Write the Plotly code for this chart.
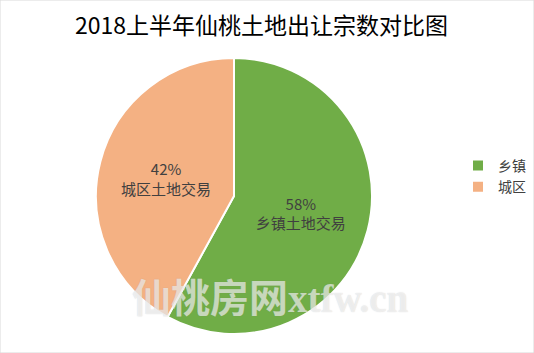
import plotly.graph_objects as go

categories = ["乡镇", "城区"]
values = [58, 42]
label_texts = ["乡镇土地交易", "城区土地交易"]
colors = ["#70AD47", "#F4B183"]
title_text = "2018上半年仙桃土地出让宗数对比图"

W, H = 534, 353
fig = go.Figure(go.Pie(
    labels=categories,
    values=values,
    text=label_texts,
    texttemplate="%{percent:.0%}<br>%{text}",
    textposition="inside",
    insidetextorientation="horizontal",
    textfont=dict(family="Noto Sans CJK SC", size=15, color="#404040"),
    marker=dict(colors=colors, line=dict(color="white", width=2)),
    sort=False,
    direction="clockwise",
    rotation=0,
    hoverinfo="skip",
    domain=dict(x=[96 / W, 372 / W], y=[1 - 334 / H, 1 - 58 / H]),
))

fig.update_layout(
    width=W, height=H,
    margin=dict(l=0, r=0, t=0, b=0, autoexpand=False),
    paper_bgcolor="white",
    plot_bgcolor="white",
    font=dict(family="Noto Sans CJK SC", color="#404040"),
    showlegend=True,
    legend=dict(
        x=458 / W, y=0.5, xanchor="left", yanchor="middle",
        font=dict(family="Noto Sans CJK SC", size=14, color="#404040"),
        itemwidth=30, tracegroupgap=4,
    ),
    annotations=[
        dict(text=title_text, x=261 / W, y=1 - 24 / H, xref="paper", yref="paper",
             showarrow=False, xanchor="center", yanchor="middle",
             font=dict(family="Noto Sans CJK SC", size=23, color="#000000")),
        dict(text="<b>仙桃房网</b><span style='font-family:Liberation Serif'><b>xtfw.cn</b></span>",
             x=270 / W, y=1 - 295 / H, xref="paper", yref="paper",
             showarrow=False, xanchor="center", yanchor="middle",
             font=dict(family="Noto Sans CJK SC", size=39, color="rgba(255,255,255,0.6)",
                       shadow="0px 0px 1px rgba(130,130,130,0.6)")),
    ],
    shapes=[dict(type="rect", xref="paper", yref="paper", x0=0, y0=0, x1=1, y1=1,
                 line=dict(color="#D9D9D9", width=1))],
)

fig.write_html("out.html")
